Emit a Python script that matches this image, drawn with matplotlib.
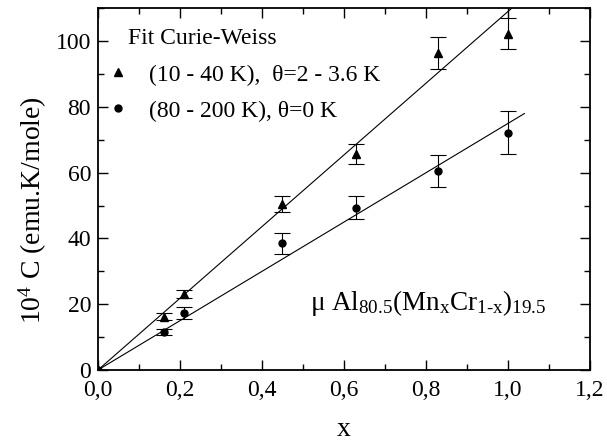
import matplotlib
matplotlib.use('Agg')
import matplotlib.pyplot as plt
from matplotlib.lines import Line2D
from matplotlib.ticker import MultipleLocator, FuncFormatter

plt.rcParams['font.family'] = ['Liberation Serif', 'DejaVu Serif']
plt.rcParams['mathtext.fontset'] = 'custom'
plt.rcParams['mathtext.rm'] = 'Liberation Serif'
plt.rcParams['mathtext.it'] = 'Liberation Serif:italic'

# Mn concentration x
conc = [0.0, 0.16, 0.21, 0.45, 0.63, 0.83, 1.0]
# Curie constant (x 10^4), 10-40 K fit
c_low_t = [0.0, 16.2, 23.0, 50.5, 65.7, 96.4, 102.3]
err_low_t = [0.0, 1.1, 1.2, 2.4, 3.1, 4.8, 4.8]
# Curie constant (x 10^4), 80-200 K fit
c_high_t = [0.0, 11.6, 17.4, 38.5, 49.3, 60.6, 72.2]
err_high_t = [0.0, 0.9, 1.9, 3.2, 3.5, 4.8, 6.5]
# linear fits
fit_x = [0.0, 1.04]
fit_low_t = [0.0, 113.4]
fit_high_t = [0.0, 78.0]

fig = plt.figure(figsize=(6.07, 4.43), dpi=100)
ax = fig.add_axes([0.1614, 0.1648, 0.8106, 0.8164])

ax.plot(fit_x, fit_low_t, color='black', linewidth=0.8)
ax.plot(fit_x, fit_high_t, color='black', linewidth=0.8)
ax.errorbar(conc, c_low_t, yerr=err_low_t, fmt='^', color='black', markersize=6,
            capsize=5.5, elinewidth=0.8, capthick=0.8)
ax.errorbar(conc, c_high_t, yerr=err_high_t, fmt='o', color='black', markersize=5,
            capsize=5.5, elinewidth=0.8, capthick=0.8)

ax.set_xlim(0, 1.2)
ax.set_ylim(0, 110)
ax.xaxis.set_major_locator(MultipleLocator(0.2))
ax.xaxis.set_minor_locator(MultipleLocator(0.1))
ax.yaxis.set_major_locator(MultipleLocator(20))
ax.yaxis.set_minor_locator(MultipleLocator(10))
ax.xaxis.set_major_formatter(FuncFormatter(lambda v, p: ('%.1f' % v).replace('.', ',')))
ax.tick_params(which='both', direction='in', top=True, right=True, labelsize=17, width=1)
ax.tick_params(axis='x', which='major', length=7, pad=7)
ax.tick_params(axis='y', which='major', length=7, pad=5)
ax.tick_params(which='minor', length=4)
for s in ax.spines.values():
    s.set_linewidth(1.3)

ax.set_xlabel('x', fontsize=20)
ax.xaxis.set_label_coords(0.5, -0.131)
ax.set_ylabel(r'$\mathrm{10^4}$ C (emu.K/mole)', fontsize=20)
ax.yaxis.set_label_coords(-0.1, 0.442)

ax.text(0.431, 0.166, r'$\mathrm{\mu\ Al_{80.5}(Mn_x Cr_{\text{1-x}})_{19.5}}$',
        transform=ax.transAxes, fontsize=19.5, va='baseline')

ax.text(0.061, 0.916, 'Fit Curie-Weiss', transform=ax.transAxes, fontsize=17, va='center')
handles = [Line2D([], [], marker='^', color='black', linestyle='none', markersize=6),
           Line2D([], [], marker='o', color='black', linestyle='none', markersize=5)]
ax.legend(handles, ['(10 - 40 K),  \u03b8=2 - 3.6 K', '(80 - 200 K), \u03b8=0 K'],
          loc='upper left', bbox_to_anchor=(0.026, 0.846), borderpad=0, borderaxespad=0,
          frameon=False, fontsize=17, handlelength=0.6,
          handletextpad=1.0, labelspacing=0.62)

fig.savefig('out.png', dpi=100)
